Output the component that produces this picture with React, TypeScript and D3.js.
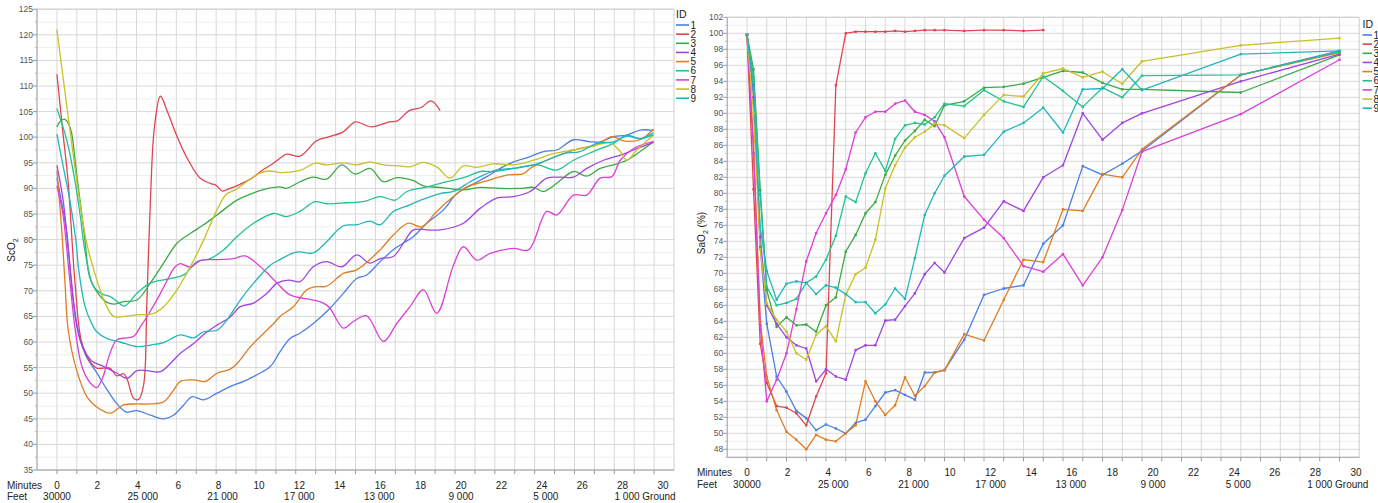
import React from 'react';
import * as d3 from 'd3';

type Pt = [number, number];

const FONT = '"Liberation Sans", Arial, Helvetica, sans-serif';

const ids = ['1', '2', '3', '4', '5', '6', '7', '8', '9'];
const colors = ['#4a7fe6', '#e0444f', '#3aaa44', '#a044e0', '#e07c22', '#22c294', '#dd3fd6', '#c8c026', '#22b6bc'];

// ScO2 by subject (minutes, value)
const sco1: Pt[] = [[0,92],[0.25,87],[0.49,81.5],[0.74,71],[1.0,63],[1.2,60],[1.5,57],[2.0,54],[2.5,50.8],[3.0,48],[3.5,46.3],[4.0,46.6],[4.7,45.7],[5.36,45.0],[5.86,45.7],[6.37,47.7],[6.78,49.3],[7.37,48.7],[8.04,50.0],[8.7,51.3],[9.38,52.3],[10.05,53.6],[10.72,55.2],[11.21,58.1],[11.71,60.7],[12.21,61.7],[12.88,63.6],[13.72,66.6],[14.39,69.5],[15.06,72.4],[15.56,73.1],[16.24,75.7],[16.99,78.3],[17.91,80.6],[18.58,83.2],[19.42,85.8],[20.09,89.0],[20.84,90.7],[21.6,92.3],[22.27,93.9],[22.94,95.2],[23.77,96.2],[24.44,97.2],[25.11,97.5],[25.95,99.5],[26.79,99.1],[27.29,99.1],[27.96,100.1],[28.63,100.4],[29.3,101.4],[29.97,101.3]];
const sco2: Pt[] = [[0,112.3],[0.3,101],[0.57,91],[0.9,72],[1.24,60],[1.66,56.2],[2.0,54.9],[2.66,54.9],[3.0,53.4],[3.35,53.8],[3.55,52.5],[3.85,49.0],[4.1,48.8],[4.35,51.5],[4.52,68],[4.7,88],[4.9,102],[5.2,108],[5.55,105],[6.05,100],[6.6,95.5],[7.2,92],[7.7,91],[8.0,90.6],[8.3,89.5],[8.7,90],[9.2,90.8],[9.8,92],[10.3,93.5],[10.8,94.7],[11.21,95.9],[11.54,96.7],[12.2,96.3],[13.05,99.3],[13.7,100.1],[14.4,101.1],[15.0,103.0],[15.8,102.0],[16.7,103.0],[17.1,103.2],[17.7,105.2],[18.3,105.8],[18.8,107.1],[19.25,105.2]];
const sco3: Pt[] = [[0,102],[0.2,103.2],[0.4,103.5],[0.6,102.5],[0.74,100.8],[0.95,94.2],[1.16,87.7],[1.41,79.9],[1.66,72.5],[2.16,69],[2.5,67.8],[2.85,67.4],[3.35,67.9],[4.02,68.2],[4.69,71.5],[5.36,75.4],[6.03,79.3],[6.7,81.2],[7.37,82.9],[8.04,84.8],[9.05,87.7],[10.0,89.3],[10.6,90.0],[11.21,90.3],[11.54,90.0],[12.21,91.3],[12.88,92.2],[13.55,91.8],[14.31,94.6],[14.98,92.8],[15.73,93.9],[16.4,91.3],[17.07,92.1],[17.91,91.5],[18.41,90.5],[19.25,90.2],[20.42,89.7],[21.26,90.2],[22.27,90.0],[23.27,90.0],[23.94,90.2],[24.44,89.4],[25.11,91.0],[25.95,93.3],[26.62,92.4],[27.29,93.9],[27.96,94.6],[28.63,95.5],[29.3,97.2],[29.97,99.1]];
const sco4: Pt[] = [[0,94.5],[0.3,88],[0.6,77],[0.9,66],[1.2,60],[1.5,57.5],[1.75,56.3],[2.35,55.2],[3.02,53.9],[3.52,52.9],[4.02,54.4],[4.52,54.4],[5.19,54.2],[5.7,55.8],[6.2,57.8],[6.87,59.7],[7.45,61.7],[8.04,63.3],[8.71,64.9],[9.21,66.9],[9.88,67.6],[10.55,69.5],[11.06,71.5],[11.63,72.1],[12.21,71.8],[12.88,74.7],[13.55,75.7],[14.31,74.7],[15.06,77.0],[15.73,75.4],[16.24,76.3],[16.9,76.7],[17.41,79.3],[17.91,81.9],[18.58,81.9],[19.25,81.9],[20.42,83.2],[21.26,86.1],[22.1,88.1],[22.94,88.4],[23.77,89.4],[24.61,92.0],[25.28,92.2],[25.95,92.2],[26.62,93.9],[27.46,95.5],[28.3,96.5],[28.97,97.5],[29.97,99.0]];
const sco5: Pt[] = [[0,93.5],[0.24,82],[0.4,72],[0.57,62.3],[0.99,54.5],[1.51,49.3],[2.0,47.3],[2.68,46.1],[3.35,47.7],[4.02,47.9],[4.69,47.9],[5.36,48.3],[5.86,50.6],[6.2,52.3],[6.87,52.6],[7.45,52.3],[8.04,53.9],[8.71,54.7],[9.05,55.8],[9.72,59.1],[10.39,61.7],[10.89,63.6],[11.21,65.0],[11.88,66.9],[12.55,70.2],[12.97,70.8],[13.55,70.9],[14.39,73.4],[15.06,74.1],[16.24,78.0],[16.9,80.9],[17.66,83.2],[18.33,82.5],[19.08,85.5],[19.92,88.4],[20.59,90.3],[21.43,91.3],[22.6,92.6],[23.44,92.9],[23.77,93.9],[24.44,95.2],[25.45,96.8],[26.28,97.8],[27.12,98.5],[27.88,100.1],[28.46,99.3],[29.3,99.5],[29.97,101.6]];
const sco6: Pt[] = [[0,105.6],[0.49,99.5],[0.9,91.6],[1.16,85],[1.4,78],[1.82,71],[2.2,69.5],[2.7,68.8],[3.0,68.0],[3.38,67.0],[4.02,69.5],[4.69,71.5],[5.7,72.4],[6.37,73.1],[7.04,75.7],[7.71,76.3],[8.38,78.0],[9.05,80.6],[9.88,83.2],[10.89,85.1],[11.54,84.5],[12.21,85.5],[12.97,87.4],[13.55,87.0],[14.56,87.2],[15.4,87.4],[16.24,88.4],[16.99,87.7],[17.58,89.4],[18.58,90.3],[19.58,91.3],[20.59,92.3],[21.26,93.3],[21.93,93.3],[22.94,93.9],[24.11,94.6],[25.11,93.6],[25.95,95.5],[26.95,97.2],[27.96,98.8],[28.63,100.4],[29.3,99.7],[29.97,100.9]];
const sco7: Pt[] = [[0,90.5],[0.3,85],[0.6,74],[0.9,63],[1.2,56],[1.5,53],[1.8,51.5],[2.0,51.1],[2.3,53],[2.6,57],[3.0,60.4],[3.5,60.8],[3.85,61.1],[4.2,63],[4.69,66],[5.2,69.5],[5.6,72.5],[5.9,74.5],[6.2,75.3],[6.7,74.6],[7.2,75.9],[8.04,76.1],[8.88,76.3],[9.46,76.8],[10.39,74.1],[11.06,71.5],[11.71,69.2],[12.88,68.2],[13.39,67.6],[13.72,66.6],[14.39,62.7],[14.89,64.0],[15.56,65.1],[16.4,60.1],[17.07,63.6],[17.74,66.9],[18.41,70.2],[19.08,65.6],[19.92,75.0],[20.42,78.6],[21.09,76.0],[21.76,77.3],[22.94,78.3],[23.69,78.0],[24.61,85.5],[25.11,84.8],[25.95,88.7],[26.62,88.7],[27.29,92.0],[27.88,92.3],[28.3,95.5],[28.97,97.8],[29.97,99.2]];
const sco8: Pt[] = [[0,121],[0.5,106],[1.0,91.5],[1.46,80],[1.75,75.5],[2.1,71],[2.4,67.8],[2.85,65],[3.35,65.0],[4.02,65.3],[4.86,65.6],[5.36,66.9],[6.03,70.2],[6.7,74.7],[7.37,79.9],[8.04,85.8],[8.5,88.8],[9.0,89.8],[9.6,91.5],[10.2,93.0],[10.7,93.4],[11.21,93.1],[12.21,93.5],[12.97,94.9],[13.55,94.6],[14.39,95.0],[15.06,94.6],[15.73,95.2],[16.4,94.6],[17.24,94.4],[17.74,94.2],[18.41,95.1],[19.08,94.2],[19.75,92.0],[20.42,94.4],[21.09,94.1],[21.93,94.8],[22.94,94.6],[23.94,95.5],[24.94,96.8],[25.95,97.5],[26.95,98.3],[27.79,98.9],[28.3,97.2],[28.63,95.5],[29.13,97.5],[29.97,100.4]];
const sco9: Pt[] = [[0,100.6],[0.32,94.2],[0.65,87.7],[0.95,79.9],[1.1,74],[1.41,67],[1.7,64],[2.0,62],[2.5,60.7],[3.17,60.0],[4.02,59.1],[4.69,59.4],[5.36,59.9],[6.2,61.4],[6.87,60.8],[7.37,62.0],[8.04,62.3],[8.54,64.3],[9.21,68.2],[9.88,71.5],[10.72,75.0],[11.21,76.1],[11.88,77.4],[12.21,77.6],[12.88,77.4],[13.55,79.6],[14.39,82.7],[15.06,82.9],[15.73,83.6],[16.24,82.9],[16.9,85.5],[17.74,86.8],[18.41,87.9],[19.25,89.0],[19.92,89.4],[20.76,91.3],[21.26,92.3],[22.1,93.6],[22.94,93.9],[23.94,94.6],[24.61,95.5],[25.45,96.8],[26.28,97.2],[27.12,98.8],[27.96,99.1],[28.63,100.2],[29.3,99.7],[29.97,100.5]];

// SaO2 by subject (minutes, %)
const sao1: Pt[] = [[0,99.8],[0.33,93.5],[0.67,73.3],[1,63.7],[1.5,57.1],[2,55.2],[2.5,52.8],[3,51.9],[3.5,50.4],[4,51.1],[4.5,50.6],[5,50.0],[5.5,51.3],[6,51.7],[6.5,53.4],[7,55.1],[7.5,55.4],[8,54.8],[8.5,54.2],[9,57.6],[9.5,57.6],[10,57.9],[11,61.7],[12,67.3],[13,68.1],[14,68.5],[15,73.7],[16,76.0],[17,83.4],[18,82.3],[19,83.7],[20,85.3],[25,94.8],[30,97.8]];
const sao2: Pt[] = [[0,99.8],[0.33,80.5],[0.67,61.2],[1,56.3],[1.5,53.4],[2,53.2],[2.5,52.5],[3,51.0],[3.5,54.6],[4,57.5],[4.5,93.5],[5,100.0],[5.5,100.2],[6,100.2],[6.5,100.2],[7,100.2],[7.5,100.3],[8,100.2],[8.5,100.3],[9,100.4],[9.5,100.4],[10,100.4],[11,100.3],[12,100.4],[13,100.4],[14,100.3],[15,100.4]];
const sao3: Pt[] = [[0,99.8],[0.33,95.5],[0.67,80.4],[1,67.9],[1.5,63.3],[2,64.5],[2.5,63.5],[3,63.6],[3.5,62.7],[4,66.0],[4.5,67.0],[5,72.7],[5.5,74.8],[6,77.5],[6.5,78.9],[7,82.3],[7.5,84.7],[8,86.6],[8.5,87.8],[9,89.2],[9.5,88.4],[10,91.0],[11,91.5],[12,93.2],[13,93.3],[14,93.7],[15,94.5],[16,95.3],[17,95.1],[18,93.8],[19,93.0],[20,93.0],[25,92.6],[30,97.3]];
const sao4: Pt[] = [[0,99.8],[0.33,92],[0.67,74.5],[1,66.0],[1.5,63.7],[2,62.0],[2.5,61.0],[3,60.6],[3.5,56.5],[4,58.0],[4.5,57.1],[5,56.7],[5.5,60.4],[6,61.0],[6.5,61.0],[7,64.1],[7.5,64.2],[8,65.9],[8.5,67.5],[9,69.9],[9.5,71.3],[10,70.1],[11,74.4],[12,75.7],[13,79.0],[14,77.8],[15,82.0],[16,83.5],[17,90.0],[18,86.7],[19,88.8],[20,90.0],[25,94.0],[30,97.4]];
const sao5: Pt[] = [[0,99.8],[0.33,86.5],[0.67,64.0],[1,57.1],[1.5,52.9],[2,50.2],[2.5,49.2],[3,48.0],[3.5,49.8],[4,49.2],[4.5,49.0],[5,50.0],[5.5,51.0],[6,56.5],[6.5,54.0],[7,52.3],[7.5,53.5],[8,57.0],[8.5,54.7],[9,55.9],[9.5,57.6],[10,57.9],[11,62.4],[12,61.6],[13,66.7],[14,71.7],[15,71.4],[16,78.0],[17,77.8],[18,82.4],[19,82.0],[20,85.5],[25,94.8],[30,97.6]];
const sao6: Pt[] = [[0,99.8],[0.33,94.5],[0.67,79.8],[1,68.3],[1.5,66.0],[2,66.3],[2.5,66.8],[3,68.8],[3.5,69.6],[4,71.7],[4.5,74.7],[5,79.6],[5.5,78.9],[6,82.5],[6.5,85.0],[7,82.8],[7.5,86.8],[8,88.5],[8.5,88.8],[9,88.6],[9.5,89.5],[10,91.2],[11,90.9],[12,92.9],[13,91.5],[14,90.8],[15,94.6],[16,92.8],[17,90.8],[18,93.2],[19,92.0],[20,94.7],[25,94.8],[30,97.7]];
const sao7: Pt[] = [[0,99.8],[0.33,85],[0.67,63.5],[1,54.0],[1.5,56.7],[2,60.0],[2.5,65.5],[3,71.5],[3.5,75.0],[4,77.5],[4.5,79.8],[5,83.0],[5.5,87.6],[6,89.5],[6.5,90.2],[7,90.2],[7.5,91.2],[8,91.6],[8.5,90.2],[9,89.8],[9.5,89.0],[10,87.0],[11,79.6],[12,76.7],[13,74.4],[14,70.9],[15,70.2],[16,72.4],[17,68.5],[18,72.0],[19,77.9],[20,85.2],[25,89.9],[30,96.7]];
const sao8: Pt[] = [[0,99.8],[0.33,90],[0.67,73],[1,66.2],[1.5,64.2],[2,62.7],[2.5,60.0],[3,59.2],[3.5,62.3],[4,63.4],[4.5,61.5],[5,67.3],[5.5,69.9],[6,70.7],[6.5,74.2],[7,80.6],[7.5,83.5],[8,85.7],[8.5,87.0],[9,87.7],[9.5,88.7],[10,88.5],[11,86.9],[12,89.8],[13,92.3],[14,92.1],[15,95.0],[16,95.6],[17,94.5],[18,95.2],[19,93.7],[20,96.5],[25,98.5],[30,99.4]];
const sao9: Pt[] = [[0,99.8],[0.33,93],[0.67,75.8],[1,70.3],[1.5,66.7],[2,68.7],[2.5,69.0],[3,68.8],[3.5,67.4],[4,68.5],[4.5,68.2],[5,67.4],[5.5,66.4],[6,66.4],[6.5,65.0],[7,66.1],[7.5,68.1],[8,66.8],[8.5,71.9],[9,77.3],[9.5,80.0],[10,82.2],[11,84.6],[12,84.8],[13,87.7],[14,88.8],[15,90.7],[16,87.6],[17,93.0],[18,93.1],[19,95.5],[20,92.9],[25,97.4],[30,97.8]];

const scoSeries = [sco1, sco2, sco3, sco4, sco5, sco6, sco7, sco8, sco9];
const saoSeries = [sao1, sao2, sao3, sao4, sao5, sao6, sao7, sao8, sao9];

// Time / altitude annotation rows under each panel
const minuteTicks = d3.range(0, 31, 2);
const feetLabels: [number, string][] = [[0, '30000'], [4.25, '25 000'], [8.2, '21 000'], [12.0, '17 000'], [15.95, '13 000'], [20.0, '9 000'], [24.2, '5 000']];
const lastFeetLabel = '1 000 Ground';
const lastFeetAt = 27.6;

interface PanelProps {
  series: Pt[][];
  x0: number; x1: number;
  yDom: [number, number];
  yTop: number; yBottom: number;
  yStep: number; yMinor: number;
  smooth: boolean;
  markers: boolean;
  title: React.ReactNode;
  titleX: number; titleY: number;
  legendX: number; legendY: number; legendLen: number;
  minutesY: number; feetY: number; labelX: number;
  rowStart: number; rowStep: number;
}

function Panel(p: PanelProps) {
  const x = d3.scaleLinear().domain([-1, 31]).range([p.x0, p.x1]);
  const y = d3.scaleLinear().domain(p.yDom).range([p.yBottom, p.yTop]);
  // the minutes/feet rows are laid out on their own, slightly wider, spacing
  const xRow = d3.scaleLinear().domain([0, 30]).range([p.rowStart, p.rowStart + 30 * p.rowStep]);
  const eps = 1e-6;
  const allY = d3.range(p.yDom[0], p.yDom[1] + eps, p.yMinor);
  const isMajor = (v: number) => Math.abs(v / p.yStep - Math.round(v / p.yStep)) < 1e-6;
  const majors = allY.filter(isMajor);
  const minors = allY.filter((v) => !isMajor(v));
  const line = d3.line<Pt>()
    .x((d) => x(d[0]))
    .y((d) => y(d[1]))
    .curve(p.smooth ? d3.curveCatmullRom.alpha(0.5) : d3.curveLinear);
  const minutes = d3.range(0, 31);

  return (
    <g>
      {minors.map((v) => (
        <line key={'hm' + v} x1={p.x0} x2={p.x1} y1={y(v)} y2={y(v)} stroke="#efefef" strokeWidth={1} />
      ))}
      {majors.map((v) => (
        <line key={'hM' + v} x1={p.x0} x2={p.x1} y1={y(v)} y2={y(v)} stroke="#d8d8d8" strokeWidth={1} />
      ))}
      {minutes.map((m) => (
        <line key={'v' + m} x1={x(m)} x2={x(m)} y1={p.yTop} y2={p.yBottom} stroke="#d8d8d8" strokeWidth={1} />
      ))}
      <rect x={p.x0} y={p.yTop} width={p.x1 - p.x0} height={p.yBottom - p.yTop} fill="none" stroke="#cfcfcf" strokeWidth={1} />
      <line x1={p.x0} x2={p.x0} y1={p.yTop} y2={p.yBottom} stroke="#aaaaaa" strokeWidth={1} />
      <line x1={p.x0} x2={p.x1} y1={p.yBottom} y2={p.yBottom} stroke="#aaaaaa" strokeWidth={1} />
      {majors.map((v) => (
        <line key={'tM' + v} x1={p.x0 - 4} x2={p.x0} y1={y(v)} y2={y(v)} stroke="#999" strokeWidth={1} />
      ))}
      {minors.map((v) => (
        <line key={'tm' + v} x1={p.x0 - 2} x2={p.x0} y1={y(v)} y2={y(v)} stroke="#bbb" strokeWidth={1} />
      ))}
      {minutes.map((m) => (
        <line key={'tx' + m} x1={x(m)} x2={x(m)} y1={p.yBottom} y2={p.yBottom + 4} stroke="#999" strokeWidth={1} />
      ))}
      {majors.map((v) => (
        <text key={'yl' + v} x={p.x0 - 4} y={y(v) + 3} textAnchor="end" fontSize={8.5} fill="#555" fontFamily={FONT}>
          {v}
        </text>
      ))}
      {p.series.map((s, i) => (
        <path key={'s' + i} d={line(s) || ''} fill="none" stroke={colors[i]} strokeWidth={1.3} strokeLinejoin="round" />
      ))}
      {p.markers &&
        p.series.map((s, i) =>
          s.map((d, j) => (
            <rect key={'m' + i + '-' + j} x={x(d[0]) - 1.2} y={y(d[1]) - 1.2} width={2.4} height={2.4} fill={colors[i]} />
          ))
        )}
      <text x={p.labelX} y={p.minutesY} fontSize={10} fill="#222" fontFamily={FONT}>Minutes</text>
      <text x={p.labelX} y={p.feetY} fontSize={10} fill="#222" fontFamily={FONT}>Feet</text>
      {minuteTicks.map((m) => (
        <text key={'xl' + m} x={xRow(m)} y={p.minutesY} textAnchor="middle" fontSize={10} fill="#222" fontFamily={FONT}>
          {m}
        </text>
      ))}
      {feetLabels.map(([m, t]) => (
        <text key={'fl' + t} x={xRow(m)} y={p.feetY} textAnchor="middle" fontSize={10} fill="#222" fontFamily={FONT}>
          {t}
        </text>
      ))}
      <text x={xRow(lastFeetAt)} y={p.feetY} fontSize={10} fill="#222" fontFamily={FONT}>{lastFeetLabel}</text>
      <text
        transform={`translate(${p.titleX},${p.titleY}) rotate(-90)`}
        textAnchor="middle"
        fontSize={10}
        fill="#222"
        fontFamily={FONT}
      >
        {p.title}
      </text>
      <text x={p.legendX} y={p.legendY} fontSize={10.5} fill="#222" fontFamily={FONT}>ID</text>
      {ids.map((id, i) => {
        const cy = p.legendY + 7 + i * 9.15;
        return (
          <g key={'lg' + id}>
            <line x1={p.legendX} x2={p.legendX + p.legendLen} y1={cy} y2={cy} stroke={colors[i]} strokeWidth={1.6} />
            <text x={p.legendX + p.legendLen + 1.5} y={cy + 3.6} fontSize={10} fill="#222" fontFamily={FONT}>
              {id}
            </text>
          </g>
        );
      })}
    </g>
  );
}

export default function App() {
  return (
    <svg
      width={1378}
      height={503}
      style={{ position: 'absolute', left: 0, top: 0, background: '#fff' }}
    >
      <rect x={0} y={0} width={1378} height={503} fill="#fff" />
      <Panel
        series={scoSeries}
        x0={37}
        x1={674}
        yDom={[35, 125]}
        yTop={9.2}
        yBottom={470}
        yStep={5}
        yMinor={2.5}
        smooth={true}
        markers={false}
        title={<>ScO<tspan fontSize={7} dy={2.5}>2</tspan></>}
        titleX={15}
        titleY={250}
        legendX={676}
        legendY={18}
        legendLen={13}
        minutesY={488.5}
        feetY={500}
        labelX={7}
        rowStart={57}
        rowStep={20.2}
      />
      <Panel
        series={saoSeries}
        x0={727.25}
        x1={1359.25}
        yDom={[47, 102]}
        yTop={17.3}
        yBottom={457.3}
        yStep={2}
        yMinor={1}
        smooth={false}
        markers={true}
        title={<>SaO<tspan fontSize={7} dy={2.5}>2</tspan><tspan dy={-2.5}> (%)</tspan></>}
        titleX={705}
        titleY={233}
        legendX={1362.5}
        legendY={28}
        legendLen={9.5}
        minutesY={476.3}
        feetY={488}
        labelX={697}
        rowStart={747}
        rowStep={20.3}
      />
    </svg>
  );
}
